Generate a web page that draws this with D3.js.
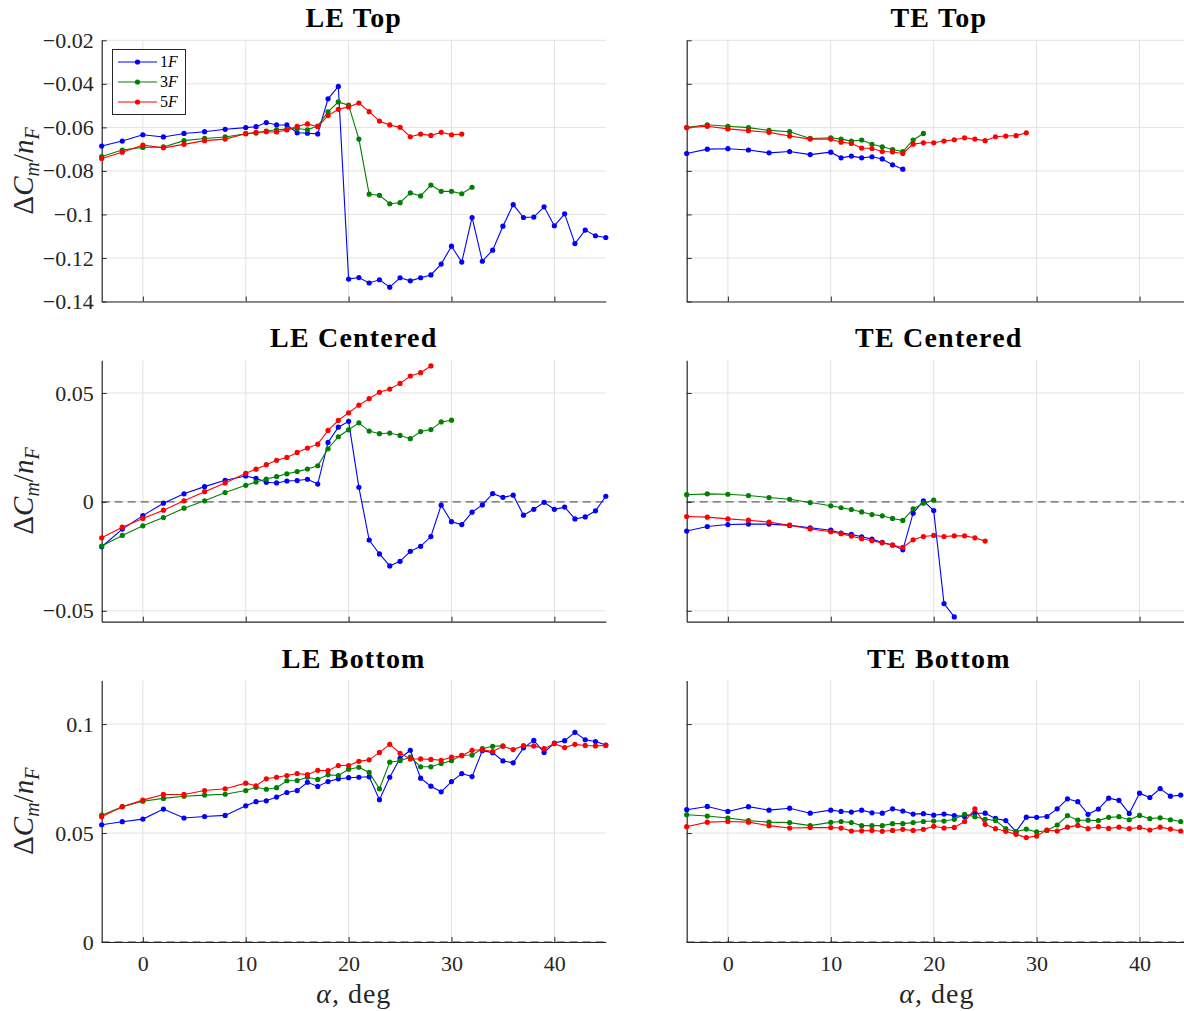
<!DOCTYPE html>
<html><head><meta charset="utf-8">
<script src="https://cdn.jsdelivr.net/npm/d3@7/dist/d3.min.js"></script>
<style>body{margin:0;background:#fff} svg{display:block}</style>
</head><body><svg id="chart" width="1184" height="1011"></svg>
<script>
// ---------------- DATA ----------------
const alphaDeg = [-4,-2,0,2,4,6,8,10,11,12,13,14,15,16,17,18,19,20,21,22,23,24,25,26,27,28,29,30,31,32,33,34,35,36,37,38,39,40,41,42,43,44,45];
const seriesNames = ["1F","3F","5F"];
const seriesColors = ["#0000ff","#008000","#ff0000"];
const panelTitles = ["LE Top","TE Top","LE Centered","TE Centered","LE Bottom","TE Bottom"];
const xTicks = [0,10,20,30,40];
const yTicksTop = [-0.14,-0.12,-0.1,-0.08,-0.06,-0.04,-0.02];
const yTicksCentered = [-0.05,0,0.05];
const yTicksBottom = [0,0.05,0.1];
const yTickLabelsTop = ["-0.14","-0.12","-0.1","-0.08","-0.06","-0.04","-0.02"];
const yTickLabelsCentered = ["-0.05","0","0.05"];
const yTickLabelsBottom = ["0","0.05","0.1"];

// LE Top
const leTop1F = [-0.0686,-0.0663,-0.0634,-0.0644,-0.0628,-0.0620,-0.0609,-0.0601,-0.0597,-0.0578,-0.0589,-0.0589,-0.0625,-0.0627,-0.0630,-0.0469,-0.0412,-0.1297,-0.1290,-0.1315,-0.1300,-0.1334,-0.1291,-0.1305,-0.1291,-0.1278,-0.1228,-0.1146,-0.1219,-0.1014,-0.1215,-0.1164,-0.1054,-0.0955,-0.1014,-0.1012,-0.0965,-0.1052,-0.0997,-0.1134,-0.1072,-0.1098,-0.1106];
const leTop3F = [-0.0734,-0.0704,-0.0692,-0.0690,-0.0661,-0.0651,-0.0644,-0.0629,-0.0626,-0.0617,-0.0611,-0.0608,-0.0605,-0.0611,-0.0594,-0.0529,-0.0483,-0.0498,-0.0654,-0.0907,-0.0912,-0.0951,-0.0946,-0.0901,-0.0915,-0.0865,-0.0894,-0.0894,-0.0905,-0.0875];
const leTop5F = [-0.0743,-0.0714,-0.0681,-0.0694,-0.0678,-0.0661,-0.0654,-0.0629,-0.0623,-0.0620,-0.0621,-0.0612,-0.0595,-0.0584,-0.0597,-0.0546,-0.0517,-0.0506,-0.0488,-0.0528,-0.0571,-0.0589,-0.0600,-0.0643,-0.0631,-0.0637,-0.0623,-0.0634,-0.0631];
// TE Top
const teTop1F = [-0.0720,-0.0700,-0.0698,-0.0704,-0.0717,-0.0711,-0.0725,-0.0714,-0.0740,-0.0732,-0.0740,-0.0735,-0.0745,-0.0772,-0.0792];
const teTop3F = [-0.0601,-0.0588,-0.0595,-0.0601,-0.0614,-0.0620,-0.0651,-0.0648,-0.0654,-0.0663,-0.0658,-0.0678,-0.0689,-0.0702,-0.0711,-0.0658,-0.0628];
const teTop5F = [-0.0601,-0.0595,-0.0607,-0.0615,-0.0623,-0.0640,-0.0654,-0.0654,-0.0668,-0.0674,-0.0695,-0.0697,-0.0711,-0.0713,-0.0720,-0.0677,-0.0671,-0.0671,-0.0663,-0.0657,-0.0648,-0.0654,-0.0661,-0.0643,-0.0640,-0.0638,-0.0625];
// LE Centered
const leCen1F = [-0.0206,-0.0125,-0.0063,-0.0006,0.0037,0.0070,0.0099,0.0119,0.0108,0.0090,0.0087,0.0096,0.0098,0.0104,0.0082,0.0273,0.0343,0.0370,0.0067,-0.0175,-0.0239,-0.0294,-0.0273,-0.0227,-0.0204,-0.0159,-0.0015,-0.0091,-0.0104,-0.0047,-0.0014,0.0038,0.0021,0.0031,-0.0061,-0.0034,-0.0002,-0.0034,-0.0024,-0.0078,-0.0069,-0.0041,0.0026];
const leCen3F = [-0.0203,-0.0154,-0.0110,-0.0072,-0.0029,0.0005,0.0043,0.0076,0.0091,0.0105,0.0116,0.0129,0.0139,0.0151,0.0166,0.0244,0.0299,0.0331,0.0363,0.0325,0.0313,0.0316,0.0305,0.0290,0.0323,0.0332,0.0367,0.0375];
const leCen5F = [-0.0165,-0.0116,-0.0076,-0.0038,0.0005,0.0047,0.0087,0.0131,0.0150,0.0171,0.0191,0.0204,0.0227,0.0247,0.0265,0.0328,0.0374,0.0409,0.0444,0.0474,0.0503,0.0518,0.0544,0.0578,0.0593,0.0624];
// TE Centered
const teCen1F = [-0.0134,-0.0113,-0.0104,-0.0102,-0.0102,-0.0108,-0.0119,-0.0130,-0.0143,-0.0149,-0.0160,-0.0171,-0.0186,-0.0198,-0.0220,-0.0052,0.0005,-0.0040,-0.0467,-0.0528];
const teCen3F = [0.0033,0.0037,0.0035,0.0029,0.0020,0.0012,-0.0003,-0.0018,-0.0027,-0.0035,-0.0046,-0.0058,-0.0064,-0.0076,-0.0085,-0.0032,-0.0006,0.0008];
const teCen5F = [-0.0067,-0.0070,-0.0078,-0.0084,-0.0093,-0.0107,-0.0124,-0.0137,-0.0146,-0.0157,-0.0169,-0.0178,-0.0188,-0.0198,-0.0209,-0.0174,-0.0159,-0.0154,-0.0159,-0.0156,-0.0156,-0.0165,-0.0180];
// LE Bottom
const leBot1F = [0.0538,0.0552,0.0564,0.0610,0.0569,0.0576,0.0581,0.0625,0.0644,0.0648,0.0665,0.0686,0.0695,0.0733,0.0714,0.0736,0.0749,0.0754,0.0756,0.0758,0.0653,0.0756,0.0843,0.0880,0.0752,0.0715,0.0689,0.0736,0.0773,0.0759,0.0878,0.0869,0.0831,0.0822,0.0891,0.0925,0.0870,0.0913,0.0924,0.0962,0.0928,0.0920,0.0904];
const leBot3F = [0.0582,0.0621,0.0646,0.0659,0.0669,0.0674,0.0678,0.0695,0.0710,0.0701,0.0708,0.0740,0.0741,0.0756,0.0746,0.0767,0.0764,0.0793,0.0802,0.0778,0.0703,0.0825,0.0832,0.0848,0.0804,0.0804,0.0819,0.0832,0.0857,0.0858,0.0887,0.0898,0.0900];
const leBot5F = [0.0575,0.0621,0.0651,0.0677,0.0677,0.0695,0.0703,0.0729,0.0717,0.0749,0.0756,0.0764,0.0773,0.0768,0.0788,0.0786,0.0810,0.0810,0.0829,0.0836,0.0870,0.0907,0.0866,0.0840,0.0840,0.0838,0.0834,0.0848,0.0855,0.0880,0.0882,0.0874,0.0898,0.0883,0.0901,0.0900,0.0887,0.0910,0.0892,0.0907,0.0902,0.0900,0.0902];
// TE Bottom
const teBot1F = [0.0607,0.0622,0.0599,0.0621,0.0605,0.0614,0.0591,0.0605,0.0599,0.0596,0.0605,0.0593,0.0591,0.0611,0.0601,0.0587,0.0589,0.0582,0.0587,0.0580,0.0576,0.0591,0.0591,0.0567,0.0557,0.0506,0.0573,0.0572,0.0576,0.0611,0.0657,0.0644,0.0586,0.0610,0.0660,0.0650,0.0590,0.0683,0.0663,0.0704,0.0669,0.0674];
const teBot3F = [0.0584,0.0578,0.0569,0.0557,0.0550,0.0548,0.0534,0.0549,0.0553,0.0548,0.0534,0.0534,0.0534,0.0543,0.0543,0.0548,0.0553,0.0555,0.0555,0.0563,0.0586,0.0575,0.0563,0.0558,0.0520,0.0506,0.0518,0.0505,0.0512,0.0537,0.0580,0.0559,0.0559,0.0557,0.0572,0.0575,0.0561,0.0581,0.0566,0.0570,0.0561,0.0553];
const teBot5F = [0.0529,0.0550,0.0553,0.0550,0.0534,0.0523,0.0525,0.0525,0.0523,0.0509,0.0510,0.0512,0.0508,0.0512,0.0517,0.0512,0.0517,0.0531,0.0523,0.0526,0.0553,0.0611,0.0540,0.0520,0.0508,0.0494,0.0479,0.0486,0.0514,0.0509,0.0527,0.0535,0.0520,0.0529,0.0521,0.0527,0.0520,0.0526,0.0514,0.0527,0.0518,0.0509];

// ---------------- LAYOUT ----------------
const svg = d3.select("#chart");
const FONT = "'Liberation Serif', 'DejaVu Serif', serif";
const colX = [[101.7, 605.8],[686.7, 1191]];
const rowY = [[301.5, 40.3],[621.7, 360.3],[942, 680.5]];
const rowDomains = [[-0.14,-0.02],[-0.055,0.065],[0,0.12]];
const rowTicks = [yTicksTop, yTicksCentered, yTicksBottom];
const rowTickLabels = [yTickLabelsTop, yTickLabelsCentered, yTickLabelsBottom];
const panelData = [
  [leTop1F, leTop3F, leTop5F],[teTop1F, teTop3F, teTop5F],
  [leCen1F, leCen3F, leCen5F],[teCen1F, teCen3F, teCen5F],
  [leBot1F, leBot3F, leBot5F],[teBot1F, teBot3F, teBot5F]
];
const axisColor = "#262626";
const gridColor = "#e3e3e3";

panelTitles.forEach((title, i) => {
  const row = Math.floor(i/2), col = i%2;
  const x = d3.scaleLinear().domain([-4,45]).range(colX[col]);
  const y = d3.scaleLinear().domain(rowDomains[row]).range(rowY[row]);
  const g = svg.append("g");
  const [xl, xr] = colX[col];
  const [yb, yt] = rowY[row];

  // grid
  g.selectAll(".gx").data(xTicks).enter().append("line")
    .attr("x1", d=>x(d)).attr("x2", d=>x(d)).attr("y1", yt).attr("y2", yb)
    .attr("stroke", gridColor).attr("stroke-width", 1);
  g.selectAll(".gy").data(rowTicks[row]).enter().append("line")
    .attr("x1", xl).attr("x2", xr).attr("y1", d=>y(d)).attr("y2", d=>y(d))
    .attr("stroke", gridColor).attr("stroke-width", 1);

  // zero dashed line
  if (rowDomains[row][0] <= 0 && rowDomains[row][1] >= 0) {
    g.append("line").attr("x1", xl).attr("x2", xr).attr("y1", y(0)).attr("y2", y(0))
      .attr("stroke", "#404040").attr("stroke-width", 1).attr("stroke-dasharray", "8,5");
  }

  // axes
  const yAxis = d3.axisLeft(y).tickValues(rowTicks[row]).tickSizeInner(-5).tickSizeOuter(0)
    .tickFormat((d, k) => col === 0 ? rowTickLabels[row][k].replace("-", "\u2212") : "");
  const ya = g.append("g").attr("transform", `translate(${xl},0)`).call(yAxis);
  const xAxis = d3.axisBottom(x).tickValues(xTicks).tickSizeInner(-5).tickSizeOuter(0)
    .tickFormat(d => row === 2 ? d : "");
  const xa = g.append("g").attr("transform", `translate(0,${yb})`).call(xAxis);
  [ya, xa].forEach(a => {
    a.select(".domain").attr("stroke", axisColor).attr("stroke-width", 1.2);
    a.selectAll(".tick line").attr("stroke", axisColor).attr("stroke-width", 1);
    a.selectAll(".tick text").attr("font-family", FONT).attr("font-size", 22).attr("fill", "#262626");
  });
  ya.selectAll(".tick text").attr("x", -8);
  xa.selectAll(".tick text").attr("y", 13);

  // title
  g.append("text").attr("x", (xl+xr)/2).attr("y", yt - 13).attr("text-anchor", "middle")
    .attr("font-family", FONT).attr("font-weight", "bold").attr("font-size", 28)
    .attr("letter-spacing", 1.2).attr("fill", "#000")
    .text(title);

  // y label
  if (col === 0) {
    const t = g.append("text").attr("transform", `translate(33,${(yt+yb)/2}) rotate(-90)`)
      .attr("text-anchor", "middle").attr("font-family", FONT).attr("font-size", 29).attr("fill", "#262626");
    t.append("tspan").text("\u0394");
    t.append("tspan").attr("font-style", "italic").text("C");
    t.append("tspan").attr("font-style", "italic").attr("font-size", 20).attr("dy", 6).text("m");
    t.append("tspan").attr("dy", -6).text("/");
    t.append("tspan").attr("font-style", "italic").text("n");
    t.append("tspan").attr("font-style", "italic").attr("font-size", 20).attr("dy", 6).text("F");
  }
  // x label
  if (row === 2) {
    const t = g.append("text").attr("x", (xl+xr)/2 - (col===1 ? 2 : 0)).attr("y", 1003).attr("text-anchor", "middle")
      .attr("font-family", FONT).attr("font-size", 28).attr("letter-spacing", 1).attr("fill", "#262626");
    t.append("tspan").attr("font-style", "italic").text("\u03B1");
    t.append("tspan").text(", deg");
  }

  // series
  const line = d3.line().x(d => x(d[0])).y(d => y(d[1]));
  panelData[i].forEach((vals, s) => {
    const pts = vals.map((v, k) => [alphaDeg[k], v]);
    g.append("path").datum(pts).attr("d", line).attr("fill", "none")
      .attr("stroke", seriesColors[s]).attr("stroke-width", 1.1);
    g.selectAll(null).data(pts).enter().append("circle")
      .attr("cx", d => x(d[0])).attr("cy", d => y(d[1])).attr("r", 2.6)
      .attr("fill", seriesColors[s]);
  });

  // legend in first panel
  if (i === 0) {
    const lg = g.append("g");
    lg.append("rect").attr("x", 112.5).attr("y", 49.5).attr("width", 73).attr("height", 65)
      .attr("fill", "#fff").attr("stroke", "#262626").attr("stroke-width", 1);
    seriesNames.forEach((nm, s) => {
      const yy = 62 + s*20;
      lg.append("line").attr("x1", 118).attr("x2", 157).attr("y1", yy).attr("y2", yy)
        .attr("stroke", seriesColors[s]).attr("stroke-width", 1.1);
      lg.append("circle").attr("cx", 137.5).attr("cy", yy).attr("r", 2.6).attr("fill", seriesColors[s]);
      const t = lg.append("text").attr("x", 160).attr("y", yy + 5).attr("font-family", FONT)
        .attr("font-size", 16).attr("fill", "#000");
      t.append("tspan").text(nm[0]);
      t.append("tspan").attr("font-style", "italic").text(nm.slice(1));
    });
  }
});
</script></body></html>
